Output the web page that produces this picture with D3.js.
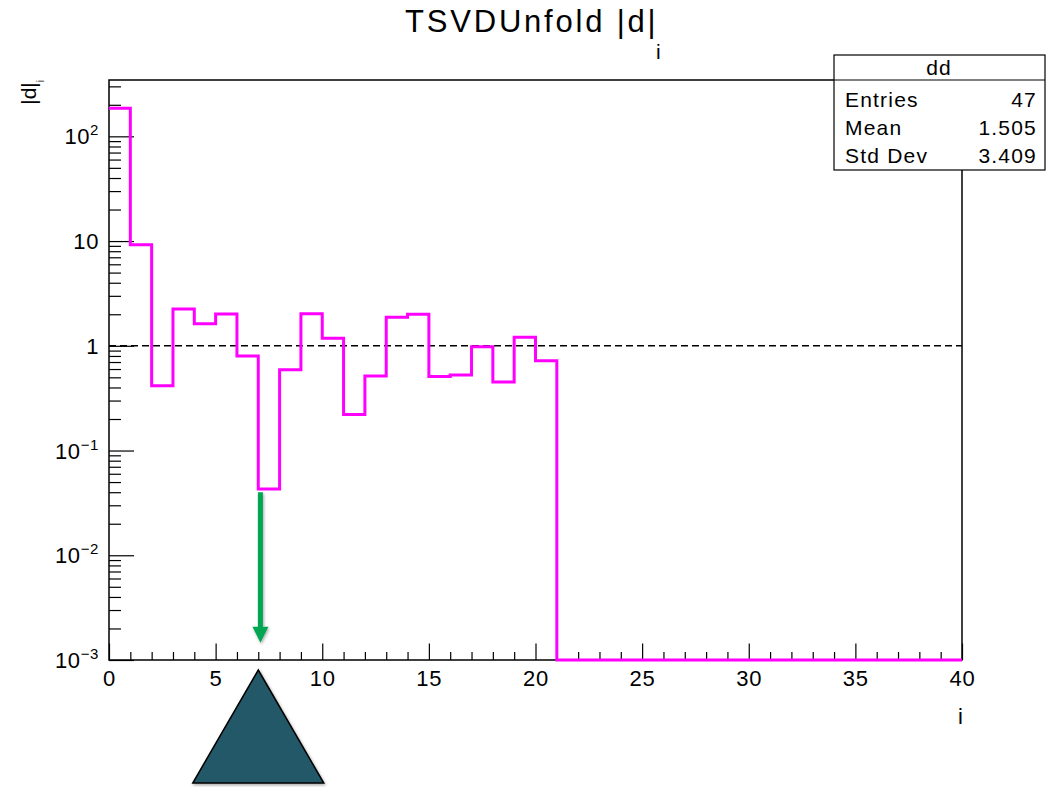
<!DOCTYPE html>
<html>
<head>
<meta charset="utf-8">
<script src="https://cdn.jsdelivr.net/npm/d3@7"></script>
<style>
  body { margin: 0; background: #fff; }
  text { font-family: "Liberation Sans", Arial, Helvetica, sans-serif; fill: #000; }
</style>
</head>
<body>
<svg id="chart" width="1046" height="787"></svg>
<script>
// bin contents |d_i| for bins i = 0..39 (zero bins sit on the axis minimum)
var binValues = [185, 9.2, 0.415, 2.24, 1.62, 2.01, 0.80, 0.043, 0.59, 2.02,
                 1.18, 0.221, 0.514, 1.87, 2.0, 0.51, 0.525, 0.98, 0.45, 1.21,
                 0.72, 0, 0, 0, 0, 0, 0, 0, 0, 0,
                 0, 0, 0, 0, 0, 0, 0, 0, 0, 0];
var xTicks = [0, 5, 10, 15, 20, 25, 30, 35, 40];
var yDecades = [-3, -2, -1, 0, 1, 2];
var statsLabels = ["Entries", "Mean", "Std Dev"];
var statsValues = ["47", "1.505", "3.409"];
var arrowX = [7.1];
var arrowY = [0.040, 0.00146];
var triangleX = [7];

var plotLeft = 109, plotRight = 962, plotTop = 80, plotBottom = 660;
var yMin = 1e-3, yMax = 345;

var svg = d3.select("#chart");

var defs = svg.append("defs");
var f = defs.append("filter").attr("id", "shadow")
    .attr("x", "-50%").attr("y", "-20%").attr("width", "200%").attr("height", "140%");
f.append("feDropShadow").attr("dx", 1).attr("dy", 1.5).attr("stdDeviation", 1.5)
    .attr("flood-color", "#000").attr("flood-opacity", 0.35);

var x = d3.scaleLinear().domain([0, 40]).range([plotLeft, plotRight]);
var y = d3.scaleLog().domain([yMin, yMax]).range([plotBottom, plotTop]);

// x ticks: majors every 5, minors every 1
var minorX = d3.range(0, 41).filter(function(d) { return d % 5 != 0; });
svg.append("g").attr("transform", "translate(0," + plotBottom + ")")
    .call(d3.axisBottom(x).tickValues(minorX).tickSize(-8).tickFormat(""))
    .call(function(g) { g.select(".domain").remove(); });
svg.append("g").attr("transform", "translate(0," + plotBottom + ")")
    .call(d3.axisBottom(x).tickValues(xTicks).tickSize(-16.5).tickFormat(""))
    .call(function(g) { g.select(".domain").remove(); });

svg.append("g").selectAll("text").data(xTicks).enter()
    .append("text")
    .attr("x", function(d) { return x(d) + 0.5; })
    .attr("y", 686)
    .attr("text-anchor", "middle")
    .attr("font-size", 22)
    .attr("letter-spacing", 0.8)
    .text(function(d) { return d; });

// y ticks: decades + 2..9 minors
var minorY = [];
yDecades.forEach(function(e) {
    for (var k = 2; k <= 9; k++) {
        var v = k * Math.pow(10, e);
        if (v <= yMax) minorY.push(v);
    }
});
var majorY = yDecades.map(function(e) { return Math.pow(10, e); });
svg.append("g").attr("transform", "translate(" + plotLeft + ",0)")
    .call(d3.axisLeft(y).tickValues(minorY).tickSize(-12).tickFormat(""))
    .call(function(g) { g.select(".domain").remove(); });
svg.append("g").attr("transform", "translate(" + plotLeft + ",0)")
    .call(d3.axisLeft(y).tickValues(majorY).tickSize(-25).tickFormat(""))
    .call(function(g) { g.select(".domain").remove(); });
svg.selectAll(".tick line").attr("stroke", "#000").attr("stroke-width", 1.2);

var yl = svg.append("g").selectAll("text").data(yDecades).enter()
    .append("text")
    .attr("x", 99)
    .attr("y", function(e) { return y(Math.pow(10, e)) + 8; })
    .attr("text-anchor", "end")
    .attr("font-size", 22)
    .attr("letter-spacing", 0.6);
yl.each(function(e) {
    var t = d3.select(this);
    if (e == 0) t.text("1");
    else if (e == 1) t.text("10");
    else {
        t.append("tspan").text("10");
        t.append("tspan").attr("font-size", 15).attr("dy", -9).text(e < 0 ? "\u2212" + (-e) : e);
    }
});

// frame
svg.append("rect")
    .attr("x", plotLeft).attr("y", plotTop)
    .attr("width", plotRight - plotLeft).attr("height", plotBottom - plotTop)
    .attr("fill", "none").attr("stroke", "#000").attr("stroke-width", 1.5);

// dashed reference at 1
svg.append("line")
    .attr("x1", x(0)).attr("x2", x(40))
    .attr("y1", y(1)).attr("y2", y(1))
    .attr("stroke", "#000").attr("stroke-width", 1.5)
    .attr("stroke-dasharray", "7,4");

// histogram outline
var pts = [];
binValues.forEach(function(v, i) {
    var yy = y(Math.max(v, yMin));
    pts.push([x(i), yy]);
    pts.push([x(i + 1), yy]);
});
svg.append("path")
    .attr("d", d3.line()(pts))
    .attr("fill", "none")
    .attr("stroke", "#ff00ff")
    .attr("stroke-width", 3);

// green arrow
var ax = x(arrowX[0]);
var ay0 = y(arrowY[0]), ay1 = y(arrowY[1]);
var arrow = svg.append("g").attr("filter", "url(#shadow)");
arrow.append("line")
    .attr("x1", ax).attr("x2", ax)
    .attr("y1", ay0).attr("y2", ay1 - 14)
    .attr("stroke", "#00a651").attr("stroke-width", 5);
arrow.append("path")
    .attr("d", "M" + (ax - 8) + "," + (ay1 - 16) + "L" + (ax + 8) + "," + (ay1 - 16) + "L" + ax + "," + ay1 + "Z")
    .attr("fill", "#00a651");

// triangle marker below the axis
var tx = x(triangleX[0]);
svg.append("path")
    .attr("d", "M" + tx + "," + (plotBottom + 10) + "L" + (tx + 65.5) + "," + (plotBottom + 123) + "L" + (tx - 65.5) + "," + (plotBottom + 123) + "Z")
    .attr("fill", "#235968")
    .attr("stroke", "#000")
    .attr("stroke-width", 1.5)
    .attr("filter", "url(#shadow)");

// title
var title = svg.append("text")
    .attr("x", 405).attr("y", 32)
    .attr("font-size", 31)
    .attr("letter-spacing", 2.8);
title.append("tspan").text("TSVDUnfold |d|");
title.append("tspan").attr("font-size", 21).attr("letter-spacing", 0)
    .attr("x", 656).attr("y", 59).text("i");

// axis titles
var ylab = svg.append("text")
    .attr("transform", "translate(36," + plotTop + ") rotate(-90)")
    .attr("text-anchor", "end")
    .attr("font-size", 21);
ylab.append("tspan").text("|d|");
ylab.append("tspan").attr("font-size", 10).attr("dy", 8).text("i");

svg.append("text")
    .attr("x", 963).attr("y", 724)
    .attr("text-anchor", "end")
    .attr("font-size", 22)
    .text("i");

// stats box
var bx = 834, by = 55, bw = 211, bh = 115;
svg.append("rect")
    .attr("x", bx).attr("y", by).attr("width", bw).attr("height", bh)
    .attr("fill", "#fff").attr("stroke", "#000").attr("stroke-width", 1.2);
svg.append("line")
    .attr("x1", bx).attr("x2", bx + bw)
    .attr("y1", 80).attr("y2", 80)
    .attr("stroke", "#000").attr("stroke-width", 1.2);
svg.append("text")
    .attr("x", 939).attr("y", 75)
    .attr("text-anchor", "middle")
    .attr("font-size", 21)
    .attr("letter-spacing", 1)
    .text("dd");
statsLabels.forEach(function(s, i) {
    svg.append("text").attr("x", 845).attr("y", 107 + i * 28)
        .attr("font-size", 21).attr("letter-spacing", 1.2).text(s);
    svg.append("text").attr("x", 1037).attr("y", 107 + i * 28)
        .attr("text-anchor", "end")
        .attr("font-size", 21).attr("letter-spacing", 1.2).text(statsValues[i]);
});
</script>
</body>
</html>
